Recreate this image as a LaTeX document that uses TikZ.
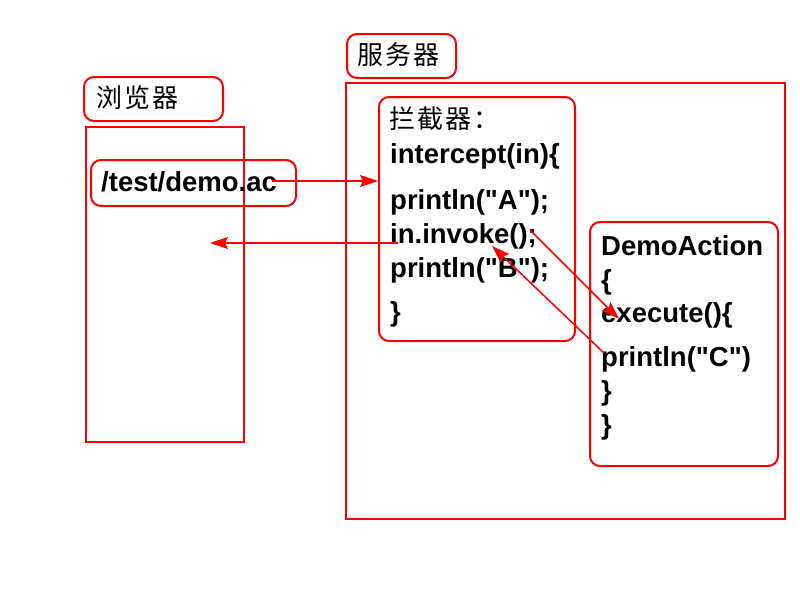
\documentclass[tikz,border=0pt]{standalone}
\usepackage{fontspec}
\setmainfont{Liberation Sans}
\newfontfamily\codefont{Liberation Sans}
\newfontfamily\cjk{Noto Sans CJK SC}[LetterSpace=8]
\usetikzlibrary{arrows.meta}
\begin{document}
\begin{tikzpicture}[x=1pt,y=-1pt,
  box/.style={draw=red, line width=2pt, rounded corners=10pt, anchor=north west, inner sep=0pt},
  frame/.style={draw=red, line width=2pt, anchor=north west, inner sep=0pt},
  code/.style={anchor=base west, inner sep=0pt, font=\fontsize{27.5}{30}\selectfont\codefont\bfseries},
  cjklabel/.style={anchor=base west, inner sep=0pt, font=\fontsize{26}{28}\selectfont\cjk},
  flow/.style={draw=red, line width=1.5pt, -{Stealth[length=18pt,width=12pt,inset=3pt]}}]
\useasboundingbox (0,0) rectangle (800,600);
% frames
\node[frame, minimum width=158pt, minimum height=315pt] (browser) at (85,126) {};
\node[frame, minimum width=439pt, minimum height=436pt] (server) at (345,82) {};
% label boxes
\node[box, minimum width=139pt, minimum height=44pt] (blabelbox) at (83,76) {};
\node[box, minimum width=109pt, minimum height=44pt] (slabelbox) at (346,33) {};
\node[box, minimum width=205pt, minimum height=46pt] (urlbox) at (90,159) {};
\node[box, minimum width=196pt, minimum height=244pt] (interbox) at (378,96) {};
\node[box, minimum width=188pt, minimum height=244pt] (actionbox) at (589,221) {};
% texts
\node[cjklabel] (blabel) at (96,107) {浏览器};
\node[cjklabel] (slabel) at (357,64) {服务器};
\node[code] (url) at (101,191) {/test/demo.ac};
\node[cjklabel] (ilabel) at (389,128) {拦截器：};
\node[code] (i1) at (390,163) {intercept(in)\{};
\node[code] (i2) at (390,209) {println("A");};
\node[code] (i3) at (390,243) {in.invoke();};
\node[code] (i4) at (390,277) {println("B");};
\node[code] (i5) at (390,321) {\}};
\node[code] (a1) at (601,255) {DemoAction};
\node[code] (a2) at (601,289) {\{};
\node[code] (a3) at (601,322) {execute()\{};
\node[code] (a4) at (601,366) {println("C")};
\node[code] (a5) at (601,400) {\}};
\node[code] (a6) at (601,434) {\}};
% connector end points
\coordinate (u1) at (272,181);
\coordinate (u2) at (378,181);
\coordinate (r1) at (398,243);
\coordinate (r2) at (210,243);
\coordinate (c1) at (530,230);
\coordinate (c2) at (619,319);
\coordinate (d1) at (604,353);
\coordinate (d2) at (492,246);
\draw[flow] (u1) -- (u2);
\draw[flow] (r1) -- (r2);
\draw[flow] (c1) -- (c2);
\draw[flow] (d1) -- (d2);
\end{tikzpicture}
\end{document}
